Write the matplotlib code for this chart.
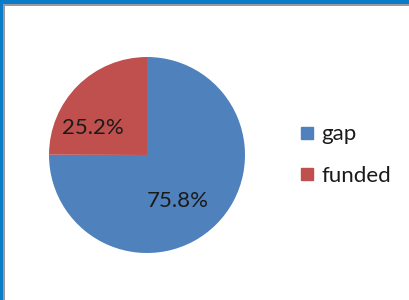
import matplotlib.pyplot as plt
from matplotlib.patches import Rectangle
from matplotlib.lines import Line2D

# data
names = ['gap', 'funded']
values = [75.8, 25.2]
value_labels = ['75.8%', '25.2%']
colors = ['#4F81BD', '#C0504D']

plt.rcParams['font.family'] = ['Lato', 'DejaVu Sans']

W, H = 410, 300
fig = plt.figure(figsize=(W / 100, H / 100), dpi=100)
fig.patch.set_facecolor('white')

# window frame: blue band + gray line on top and left
fig.add_artist(Rectangle((0, 1 - 4 / H), 1, 4 / H, transform=fig.transFigure, color='#0A7BC8', lw=0))
fig.add_artist(Rectangle((0, 1 - 6 / H), 1, 2 / H, transform=fig.transFigure, color='#9A9A9A', lw=0))
fig.add_artist(Rectangle((0, 0), 3 / W, 1, transform=fig.transFigure, color='#0A7BC8', lw=0))
fig.add_artist(Rectangle((3 / W, 0), 2 / W, 1 - 4 / H, transform=fig.transFigure, color='#9A9A9A', lw=0))

cx, cy, r = 147, 155, 98
ax = fig.add_axes([(cx - r) / W, 1 - (cy + r) / H, 2 * r / W, 2 * r / H])
wedges, _ = ax.pie(values, colors=colors, startangle=90, counterclock=False, radius=1)
ax.set_xlim(-1, 1)
ax.set_ylim(-1, 1)
ax.set_aspect('equal')
ax.axis('off')

# label positions (fraction of radius), as Excel placed them
label_pos = [(0.31, -0.466), (-0.55, 0.276)]
for (x, y), t in zip(label_pos, value_labels):
    ax.text(x, y, t, ha='center', va='center', fontsize=16, color='#1A1A1A')

handles = [Line2D([], [], marker='s', ls='', color=c, markersize=8.6) for c in colors]
fig.legend(handles, names, loc='center left', bbox_to_anchor=(299 / W, 1 - 155 / H),
           frameon=False, fontsize=16, handlelength=0.75, handletextpad=0.25,
           labelspacing=0.95, labelcolor='#1A1A1A', borderpad=0, borderaxespad=0)

fig.savefig('out.png', dpi=100)
